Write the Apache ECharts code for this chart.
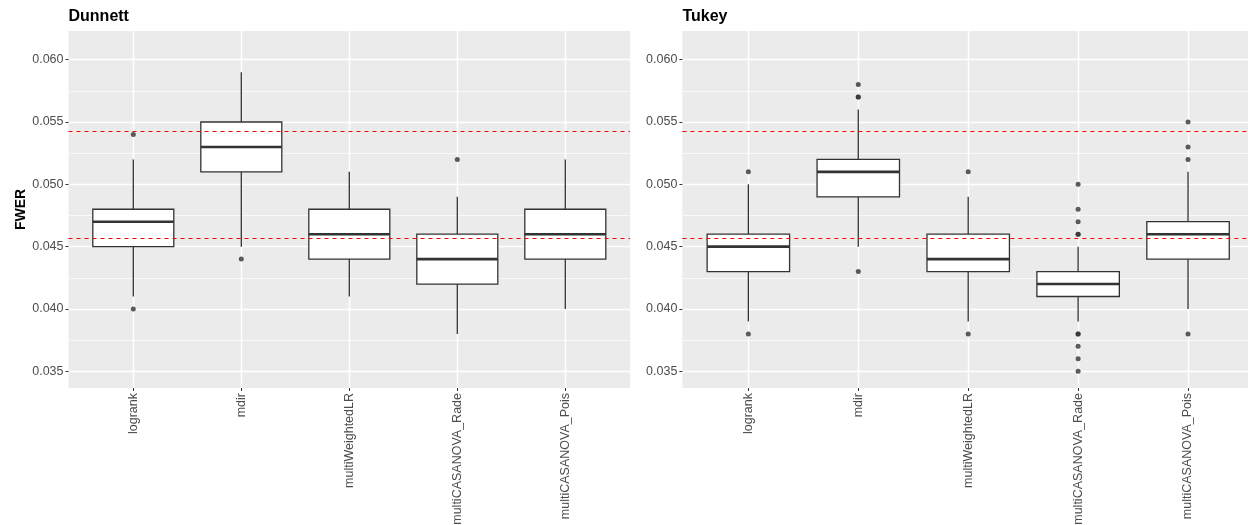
<!DOCTYPE html>
<html>
<head>
<meta charset="utf-8">
<script src="https://cdn.jsdelivr.net/npm/echarts@6/dist/echarts.min.js"></script>
<style>
html,body{margin:0;padding:0;background:#fff;}
#chart{width:1248px;height:525px;}
</style>
</head>
<body>
<div id="chart"></div>
<script>
// ---- data ----
const categories = ['logrank', 'mdir', 'multiWeightedLR', 'multiCASANOVA_Rade', 'multiCASANOVA_Pois'];
// [lower whisker, Q1, median, Q3, upper whisker]
const dunnettStats = [
  [0.041, 0.045, 0.047, 0.048, 0.052],
  [0.045, 0.051, 0.053, 0.055, 0.059],
  [0.041, 0.044, 0.046, 0.048, 0.051],
  [0.038, 0.042, 0.044, 0.046, 0.049],
  [0.040, 0.044, 0.046, 0.048, 0.052]
];
const dunnettOutliers = [
  [0.054, 0.040],
  [0.044],
  [],
  [0.052],
  []
];
const tukeyStats = [
  [0.039, 0.043, 0.045, 0.046, 0.050],
  [0.045, 0.049, 0.051, 0.052, 0.056],
  [0.039, 0.043, 0.044, 0.046, 0.049],
  [0.039, 0.041, 0.042, 0.043, 0.045],
  [0.040, 0.044, 0.046, 0.047, 0.051]
];
const tukeyOutliers = [
  [0.051, 0.038],
  [0.058, 0.057, 0.057, 0.043],
  [0.051, 0.038],
  [0.050, 0.048, 0.047, 0.046, 0.046, 0.038, 0.038, 0.037, 0.036, 0.035],
  [0.055, 0.053, 0.052, 0.038]
];
const referenceLines = [0.04573, 0.05427];
const yMajorTicks = [0.035, 0.040, 0.045, 0.050, 0.055, 0.060];
const yMinorTicks = [0.0375, 0.0425, 0.0475, 0.0525, 0.0575];
const panelTitles = ['Dunnett', 'Tukey'];
const yAxisTitle = 'FWER';

// ---- build ----
const FONT = 'Liberation Sans, Arial, sans-serif';
const Y_MIN = 0.03366, Y_MAX = 0.0623;
const catIdx = categories.map((c, i) => i);

function renderBox(params, api) {
  const x = api.value(0);
  const lo = api.value(1), q1 = api.value(2), med = api.value(3), q3 = api.value(4), hi = api.value(5);
  const half = api.size([1, 0])[0] * 0.375;
  const pLo = api.coord([x, lo]), pQ1 = api.coord([x, q1]), pMed = api.coord([x, med]);
  const pQ3 = api.coord([x, q3]), pHi = api.coord([x, hi]);
  const st = { stroke: '#333333', lineWidth: 1.3, fill: null };
  return {
    type: 'group',
    children: [
      { type: 'line', shape: { x1: pLo[0], y1: pLo[1], x2: pQ1[0], y2: pQ1[1] }, style: st },
      { type: 'line', shape: { x1: pQ3[0], y1: pQ3[1], x2: pHi[0], y2: pHi[1] }, style: st },
      { type: 'rect', shape: { x: pQ1[0] - half, y: pQ3[1], width: 2 * half, height: pQ1[1] - pQ3[1] },
        style: { fill: '#ffffff', stroke: '#333333', lineWidth: 1.3 } },
      { type: 'line', shape: { x1: pMed[0] - half, y1: pMed[1], x2: pMed[0] + half, y2: pMed[1] },
        style: { stroke: '#333333', lineWidth: 2.6 } }
    ]
  };
}

function renderRefLine(params, api) {
  const cs = params.coordSys;
  // snap to the pixel grid so the 1px dashed line stays crisp red
  const y = Math.round(api.coord([0, api.value(0)])[1]) + 0.5;
  return {
    type: 'line',
    shape: { x1: cs.x, y1: y, x2: cs.x + cs.width, y2: y },
    style: { stroke: '#FF0000', lineWidth: 1, lineDash: [4, 4], fill: null }
  };
}

const gridDefs = [
  { left: 68.5, top: 31, width: 561.6, height: 357 },
  { left: 682.4, top: 31, width: 571.6, height: 357 }
];

const grids = [], xAxes = [], yAxes = [], series = [], titles = [];
const statsList = [dunnettStats, tukeyStats];
const outList = [dunnettOutliers, tukeyOutliers];

gridDefs.forEach((g, gi) => {
  grids.push(Object.assign({ show: true, backgroundColor: '#EBEBEB', borderWidth: 0, outerBoundsMode: 'none', containLabel: false }, g));
  xAxes.push({
    type: 'value', gridIndex: gi, min: -0.6, max: categories.length - 0.4,
    axisLine: { show: false, onZero: false },
    axisTick: { show: true, length: 3, lineStyle: { color: '#333333', width: 1 }, customValues: catIdx },
    axisLabel: { show: true, customValues: catIdx, rotate: 90, margin: 5, fontSize: 12.5, color: '#4D4D4D', fontFamily: FONT,
      formatter: v => categories[Math.round(v)] },
    splitLine: { show: true, lineStyle: { color: '#ffffff', width: 1.4 } },
    minorSplitLine: { show: false }
  });
  // major axis
  yAxes.push({
    type: 'value', gridIndex: gi, min: Y_MIN, max: Y_MAX, position: 'left',
    name: gi === 0 ? yAxisTitle : '', nameLocation: 'middle', nameRotate: 90, nameGap: 40,
    nameTextStyle: { fontSize: 14, fontWeight: 'bold', color: '#000000', fontFamily: FONT },
    axisLine: { show: false, onZero: false },
    axisTick: { show: true, length: 3, lineStyle: { color: '#333333', width: 1 }, customValues: yMajorTicks },
    axisLabel: { show: true, customValues: yMajorTicks, margin: 5, fontSize: 12.5, color: '#4D4D4D', fontFamily: FONT,
      formatter: v => v.toFixed(3) },
    splitLine: { show: true, lineStyle: { color: '#ffffff', width: 1.4 } }
  });
  // minor grid axis
  yAxes.push({
    type: 'value', gridIndex: gi, min: Y_MIN, max: Y_MAX, position: 'left',
    axisLine: { show: false, onZero: false },
    axisTick: { show: false, customValues: yMinorTicks },
    axisLabel: { show: false, customValues: yMinorTicks },
    splitLine: { show: true, lineStyle: { color: '#ffffff', width: 0.7 } }
  });
  titles.push({
    text: panelTitles[gi], left: g.left, top: 9, padding: 0,
    textStyle: { fontSize: 16, fontWeight: 'bold', color: '#000000', fontFamily: FONT }
  });
  series.push({
    type: 'custom', xAxisIndex: gi, yAxisIndex: gi * 2,
    renderItem: renderBox,
    encode: { x: 0, y: [1, 2, 3, 4, 5] },
    data: statsList[gi].map((s, i) => [i].concat(s)),
    clip: false,
    z: 3
  });
  const pts = [];
  outList[gi].forEach((arr, i) => arr.forEach(v => pts.push([i, v])));
  series.push({
    type: 'scatter', xAxisIndex: gi, yAxisIndex: gi * 2,
    symbol: 'circle', symbolSize: 5,
    itemStyle: { color: '#333333' },
    data: pts, z: 4, silent: true
  });
  series.push({
    type: 'custom', xAxisIndex: gi, yAxisIndex: gi * 2,
    renderItem: renderRefLine,
    encode: { y: 0 },
    data: referenceLines.map(v => [v]),
    silent: true, z: 5
  });
});

const chart = echarts.init(document.getElementById('chart'), null, { renderer: 'canvas' });
chart.setOption({
  animation: false,
  backgroundColor: '#ffffff',
  title: titles,
  grid: grids,
  xAxis: xAxes,
  yAxis: yAxes,
  series: series
});
</script>
</body>
</html>
